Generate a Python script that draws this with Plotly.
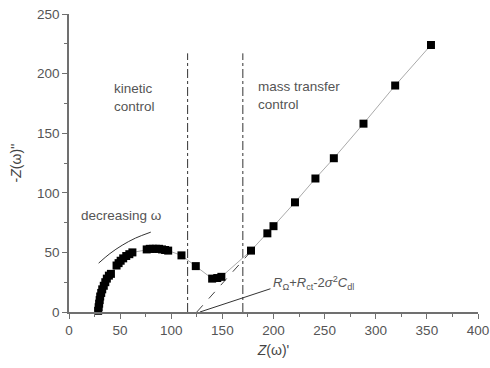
import plotly.graph_objects as go

# Impedance data (Nyquist plot)
z_real = [28.5, 29, 29.5, 30, 30.5, 31.5, 32.5, 34, 35.5, 37, 39, 41,
          46.5, 48.5, 50.5, 53, 56, 59, 62,
          76, 79, 82, 85, 88, 91, 94, 97,
          110, 124, 140, 145, 149,
          178, 194, 200, 221, 241, 259, 288, 319, 354]
z_imag = [1, 4, 7, 10, 13, 16, 19, 22, 25, 28, 30.5, 32,
          39, 41, 43, 45, 47, 48.5, 50,
          52.5, 53, 53, 53, 53, 52.5, 52, 51.5,
          47.5, 38.5, 28, 28.5, 29.5,
          51.5, 66, 72, 92, 112, 129, 158, 190, 224]

# Region boundaries (vertical dash-dot lines)
boundary_x = [116, 170]
boundary_top = 217

# Extrapolation of Warburg line to the real axis
extrap_x = [125, 176]
extrap_y = [0, 49]

# Leader line to intercept label
leader_x = [128, 197]
leader_y = [0, 19.5]

# "decreasing ω" arrow arc
arc_x = [29, 40, 52, 65, 80]
arc_y = [41, 49, 56, 62, 67]

grey = "#707070"
FONT = "Liberation Sans, Arial, sans-serif"

fig = go.Figure()

for bx in boundary_x:
    fig.add_trace(go.Scatter(x=[bx, bx], y=[0, boundary_top], mode="lines",
                             line=dict(color="#333333", width=1, dash="dashdot"),
                             showlegend=False, hoverinfo="skip"))

fig.add_trace(go.Scatter(x=extrap_x, y=extrap_y, mode="lines",
                         line=dict(color="#444444", width=1, dash="dash"),
                         showlegend=False, hoverinfo="skip"))
fig.add_trace(go.Scatter(x=leader_x, y=leader_y, mode="lines",
                         line=dict(color="#333333", width=1),
                         showlegend=False, hoverinfo="skip"))
fig.add_trace(go.Scatter(x=arc_x, y=arc_y, mode="lines", line_shape="spline",
                         line=dict(color="#333333", width=1),
                         showlegend=False, hoverinfo="skip"))

fig.add_trace(go.Scatter(x=z_real, y=z_imag, mode="lines+markers",
                         line=dict(color="#aaaaaa", width=1),
                         marker=dict(symbol="square", size=8, color="black"),
                         cliponaxis=False, showlegend=False))

txt = dict(family=FONT, size=13.5, color="#555555")
fig.add_annotation(x=42, y=180, xref="x", yref="y", text="kinetic<br>control",
                   showarrow=False, xanchor="left", yanchor="middle", align="left", font=txt)
fig.add_annotation(x=183, y=182, xref="x", yref="y", text="mass transfer<br>control",
                   showarrow=False, xanchor="left", yanchor="middle", align="left", font=txt)
fig.add_annotation(x=10, y=81, xref="x", yref="y", text="decreasing ω",
                   showarrow=False, xanchor="left", yanchor="middle", font=txt)
fig.add_annotation(x=198, y=24, xref="x", yref="y",
                   text="<i>R</i><sub>Ω</sub>+<i>R</i><sub>ct</sub>-2<i>σ</i><sup>2</sup><i>C</i><sub>dl</sub>",
                   showarrow=False, xanchor="left", yanchor="middle",
                   font=dict(family=FONT, size=13, color="#555555"))

axis_common = dict(showline=True, linecolor=grey, linewidth=1.5, ticks="outside",
                   ticklen=5, tickcolor=grey, tickwidth=1, showgrid=False, zeroline=False,
                   automargin=False,
                   tickfont=dict(family=FONT, size=13.5, color="#555555"),
                   minor=dict(ticks="outside", ticklen=3, tickcolor=grey, dtick=25, showgrid=False))

fig.update_xaxes(range=[0, 400], dtick=50, tick0=0,
                 title=dict(text="<i>Z</i>(ω)'", font=dict(family=FONT, size=14, color="#444444"), standoff=8),
                 **axis_common)
fig.update_yaxes(range=[0, 250], dtick=50, tick0=0,
                 title=dict(text="-<i>Z</i>(ω)''", font=dict(family=FONT, size=14, color="#444444"), standoff=12),
                 **axis_common)

fig.update_layout(width=490, height=368, margin=dict(l=69, r=12, t=14, b=56),
                  paper_bgcolor="white", plot_bgcolor="white")

fig.write_html("out.html", config={"displayModeBar": False})

# remove default body margin so the figure fills the window exactly
with open("out.html", "r", encoding="utf-8") as f:
    html = f.read()
html = html.replace("<head>", "<head><style>html,body{margin:0;padding:0;overflow:hidden;}</style>", 1)
with open("out.html", "w", encoding="utf-8") as f:
    f.write(html)
